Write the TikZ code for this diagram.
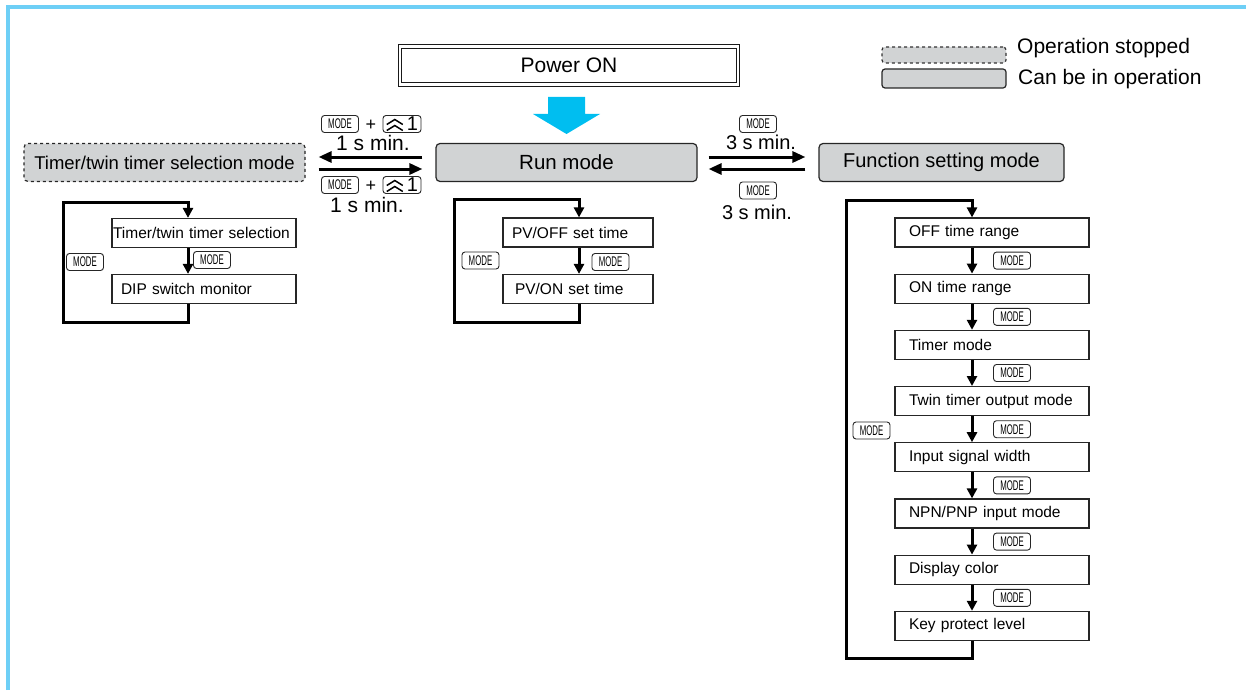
\documentclass[tikz,border=0pt]{standalone}
\usepackage{fontspec}
\setmainfont{Liberation Sans}
\newfontfamily\keyfont[FakeStretch=0.56]{Liberation Sans}
\usetikzlibrary{positioning,arrows.meta,calc}

\definecolor{framecyan}{RGB}{110,207,246}
\definecolor{flowcyan}{RGB}{0,190,240}
\definecolor{modegray}{RGB}{209,211,212}

\newcommand{\fsz}[1]{\fontsize{#1}{#1}\selectfont}
\newcommand{\dblchev}{\tikz[baseline=0pt,x=1pt,y=1pt]\draw[black,line width=1.5pt,solid,sharp corners,-] (0,0)--(8,5)--(16,0) (0,6)--(8,11)--(16,6);}

\begin{document}
\begin{tikzpicture}[
  x=1pt, y=-1pt,
  >={Triangle[length=10pt,width=10pt]},
  lbl/.style={inner sep=0pt},
  modebox/.style={draw=black!85, fill=modegray, rounded corners=4pt, line width=1.2pt, minimum height=38pt},
  stopbox/.style={modebox, dashed},
  itembox/.style={draw=black!85, line width=1.2pt, minimum height=29pt, align=left, font=\fsz{15.5}},
  selitem/.style={itembox, text width=182pt, inner xsep=1pt},
  pvitem/.style={itembox, text width=132pt, inner xsep=9pt},
  fnitem/.style={itembox, text width=166pt, inner xsep=14pt},
  modekey/.style={draw=black!85, line width=0.9pt, rounded corners=3pt, minimum width=37pt, minimum height=17pt, inner sep=0pt, font=\keyfont\fsz{14}},
  upkey/.style={modekey, minimum width=38pt, font=\fsz{20}},
  looparr/.style={->, line width=3pt},
  steparr/.style={->, line width=3pt},
  swarr/.style={->, line width=3pt, >={Triangle[length=13pt,width=11pt]}}
]
\useasboundingbox (0,0) rectangle (1246,690);

% frame
\draw[framecyan, line width=4pt] (8,690) -- (8,7) -- (1246,7);

% legend
\node[stopbox, draw=black!80, minimum width=124pt, minimum height=16pt, rounded corners=3pt] (stopkey) at (944,55) {};
\node[modebox, minimum width=124pt, minimum height=19pt, rounded corners=3pt] (runkey) at (944,78.5) {};
\node[lbl, anchor=base west, font=\fsz{21}] (stoptxt) at (1017,54) {Operation stopped};
\node[lbl, anchor=base west, font=\fsz{21}] (runtxt) at (1018,85) {Can be in operation};

% power on
\node[draw=black!90, double, double distance=2.2pt, line width=1pt, minimum width=338pt, minimum height=38pt, font=\fsz{21}] (poweron) at (569,65.5) {Power ON};
\fill[flowcyan] (548,97) -- (585,97) -- (585,114) -- (600,114) -- (566.5,134) -- (533,114) -- (548,114) -- cycle;

% modes
\node[stopbox, minimum width=281pt, font=\fsz{18.5}] (timselmode) at (164.5,162.5) {Timer/twin timer selection mode};
\node[modebox, minimum width=261pt, font=\fsz{20.5}] (runmode) at (566.5,162.5) {Run mode};
\node[modebox, minimum width=245pt, font=\fsz{20}] (fnmode) at (941.5,162.5) {Function setting mode};

% switching between modes
\draw[swarr] ([xshift=-13pt,yshift=5.5pt]runmode.west) -- ([xshift=13pt,yshift=5.5pt]timselmode.east);
\draw[swarr] ([xshift=13pt,yshift=-6.5pt]timselmode.east) -- ([xshift=-13pt,yshift=-6.5pt]runmode.west);
\draw[swarr] ([xshift=11pt,yshift=5.5pt]runmode.east) -- ([xshift=-13pt,yshift=5.5pt]fnmode.west);
\draw[swarr] ([xshift=-13pt,yshift=-6.5pt]fnmode.west) -- ([xshift=11pt,yshift=-6.5pt]runmode.east);

\node[modekey] (keyA) at (340,124) {MODE};
\node[lbl, font=\fsz{18}] (plusA) at (371,125) {+};
\node[upkey] (upA) at (402,124) {\dblchev\,1};
\node[lbl, anchor=base, font=\fsz{21}] (timeA) at (373,150) {1 s min.};
\node[modekey] (keyB) at (340,185) {MODE};
\node[lbl, font=\fsz{18}] (plusB) at (371,186) {+};
\node[upkey] (upB) at (402,185) {\dblchev\,1};
\node[lbl, anchor=base, font=\fsz{21}] (timeB) at (367,212) {1 s min.};
\node[modekey] (keyC) at (758,124) {MODE};
\node[lbl, anchor=base, font=\fsz{20}] (timeC) at (761,149) {3 s min.};
\node[modekey] (keyD) at (758,190.5) {MODE};
\node[lbl, anchor=base, font=\fsz{20}] (timeD) at (757,219) {3 s min.};

% timer/twin timer selection loop
\node[selitem] (timsel) at (204,233) {Timer/twin timer selection};
\node[selitem] (dipmon) at (204,289) {\hspace*{8pt}DIP switch monitor};
\coordinate (selcol) at (188,0);
\coordinate (selbl) at (63,322);
\coordinate (seltl) at (63,202);
\draw[steparr] (timsel.south -| selcol) -- (dipmon.north -| selcol);
\draw[looparr] (dipmon.south -| selcol) |- (selbl) -- (seltl) -| (timsel.north -| selcol);
\node[modekey] (selkeyL) at (85,262) {MODE};
\node[modekey] (selkeyR) at (212,260) {MODE};

% run mode loop
\node[pvitem] (pvoff) at (578,232.5) {PV/OFF set time};
\node[pvitem] (pvon) at (578,289) {\hspace*{3pt}PV/ON set time};
\coordinate (pvcol) at (579,0);
\coordinate (pvbl) at (454,322);
\coordinate (pvtl) at (454,199);
\draw[steparr] (pvoff.south -| pvcol) -- (pvon.north -| pvcol);
\draw[looparr] (pvon.south -| pvcol) |- (pvbl) -- (pvtl) -| (pvoff.north -| pvcol);
\node[modekey] (pvkeyL) at (480.5,260.5) {MODE};
\node[modekey] (pvkeyR) at (610.5,262) {MODE};

% function setting loop
\foreach \txt [count=\i] in {OFF time range, ON time range, Timer mode, Twin timer output mode, Input signal width, NPN/PNP input mode, Display color, Key protect level}
  \node[fnitem] (fn\i) at (992,{232.5+56.2*(\i-1)}) {\txt};
\coordinate (fncol) at (972,0);
\coordinate (fnbl) at (846,658);
\coordinate (fntl) at (846,200);
\foreach \i [evaluate=\i as \j using int(\i+1)] in {1,...,7} {
  \draw[steparr] (fn\i.south -| fncol) -- (fn\j.north -| fncol);
  \node[modekey] (fnkey\i) at ($(fn\i.south)!0.5!(fn\j.north)+(20,0)$) {MODE};
}
\draw[looparr] (fn8.south -| fncol) |- (fnbl) -- (fntl) -| (fn1.north -| fncol);
\node[modekey] (fnkeyL) at (871.5,430.5) {MODE};
\end{tikzpicture}
\end{document}
